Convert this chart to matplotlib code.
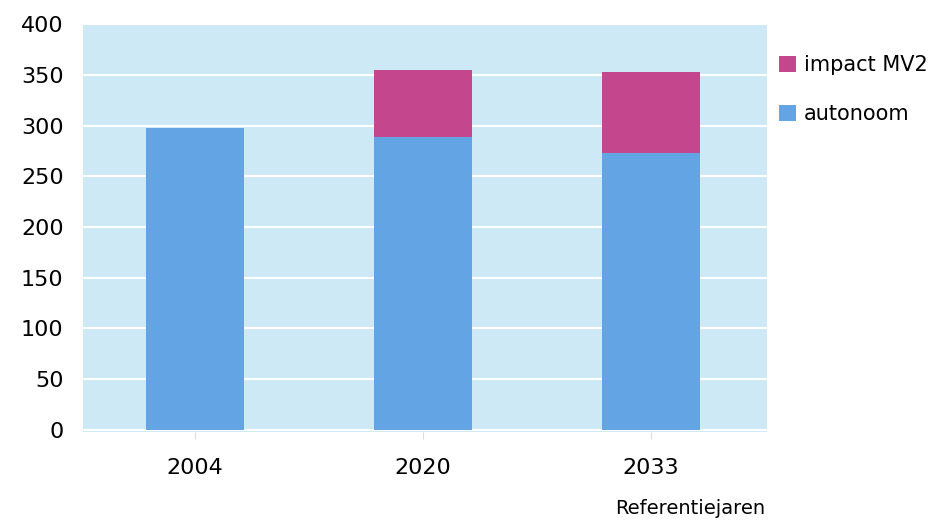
import matplotlib.pyplot as plt

years = ["2004", "2020", "2033"]
autonoom = [298, 289, 273]
impact_mv2 = [0, 66, 80]

blue = "#63a4e4"
pink = "#c4468d"

fig = plt.figure(figsize=(9.37, 5.26), dpi=100)
ax = fig.add_axes([0.0886, 0.179, 0.730, 0.775])
ax.set_facecolor("#cde9f5")

x = range(len(years))
b1 = ax.bar(x, autonoom, width=0.43, color=blue, label="autonoom", zorder=3)
b2 = ax.bar(x, impact_mv2, width=0.43, bottom=autonoom, color=pink,
            label="impact MV2", zorder=3)

ax.set_xlim(-0.49, 2.51)
ax.set_ylim(-2, 400)
ax.set_yticks(range(0, 401, 50))
ax.set_xticks(list(x))
ax.set_xticklabels(years, fontsize=16)
ax.tick_params(axis="y", length=0, labelsize=16, pad=14)
ax.tick_params(axis="x", length=5, color="#dddddd", pad=14)
ax.yaxis.grid(True, color="white", linewidth=1.5, zorder=1)
ax.set_axisbelow(True)
for s in ax.spines.values():
    s.set_visible(False)

ax.legend([b2, b1], ["impact MV2", "autonoom"], loc="upper left",
          bbox_to_anchor=(0.99, 0.97), frameon=False, fontsize=15,
          handlelength=0.8, handleheight=0.8, handletextpad=0.4,
          labelspacing=1.4)

fig.text(0.737, 0.015, "Referentiejaren", ha="center", va="bottom", fontsize=14)

fig.savefig("out.png", dpi=100)
